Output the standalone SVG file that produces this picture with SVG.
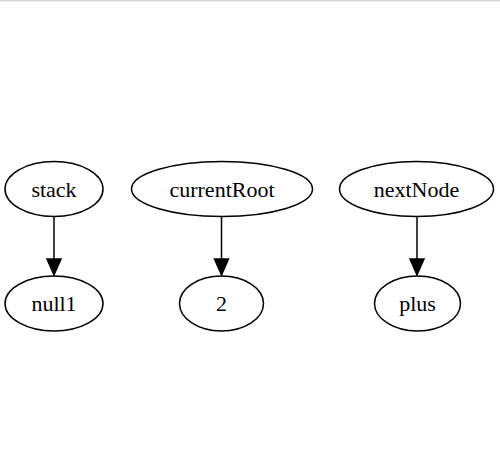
<svg xmlns="http://www.w3.org/2000/svg" width="500" height="472" viewBox="0 0 500 472">
<style>
.n ellipse{fill:none;stroke:#000;stroke-width:1.5}
.n text{font-family:"Liberation Serif","Times New Roman",serif;font-size:22px;fill:#000;text-anchor:middle}
.e line{stroke:#000;stroke-width:1.5}
.e polygon{fill:#000;stroke:#000;stroke-width:1.5}
</style>
<rect x="0" y="0" width="500" height="472" fill="#fff"/>
<rect x="0" y="0" width="500" height="1.5" fill="#d9d9d9"/>
<g id="stack" class="n"><ellipse cx="54" cy="189" rx="49" ry="27.5"/><text x="54" y="196.5">stack</text></g>
<g id="currentRoot" class="n"><ellipse cx="222" cy="189" rx="90.5" ry="27.5"/><text x="222" y="196.5">currentRoot</text></g>
<g id="nextNode" class="n"><ellipse cx="416.5" cy="189" rx="77" ry="27.5"/><text x="416.5" y="196.5">nextNode</text></g>
<g id="null1" class="n"><ellipse cx="54" cy="303.5" rx="49" ry="27.5"/><text x="54" y="311">null1</text></g>
<g id="n2" class="n"><ellipse cx="221.5" cy="303.5" rx="42" ry="27.5"/><text x="221.5" y="311">2</text></g>
<g id="plus" class="n"><ellipse cx="417.5" cy="303.5" rx="43" ry="27.5"/><text x="417.5" y="311">plus</text></g>
<g id="edges" class="e">
<line x1="54" y1="216.5" x2="54" y2="259"/><polygon points="47,259 61,259 54,275"/>
<line x1="221.5" y1="216.5" x2="221.5" y2="259"/><polygon points="214.5,259 228.5,259 221.5,275"/>
<line x1="417" y1="216.5" x2="417" y2="259"/><polygon points="410,259 424,259 417,275"/>
</g>
</svg>
